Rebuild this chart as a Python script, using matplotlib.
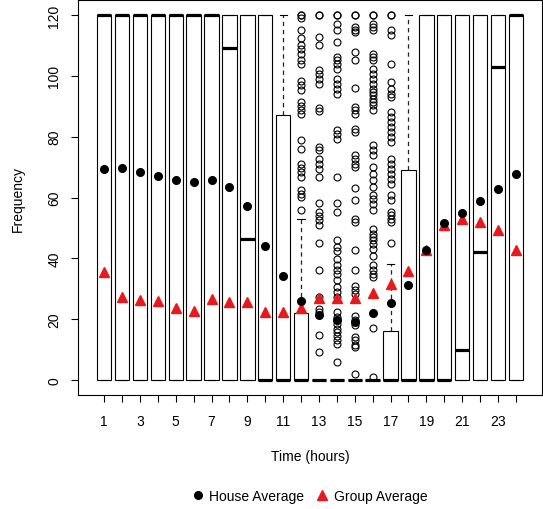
import matplotlib
matplotlib.use('Agg')
import matplotlib.pyplot as plt
from matplotlib.lines import Line2D

plt.rcParams['font.family'] = ['Liberation Sans', 'DejaVu Sans']

hours = list(range(1, 25))
q1 = [0] * 24
q3 = [120, 120, 120, 120, 120, 120, 120, 120, 120, 120,
      87, 22, 0, 0, 0, 0, 16, 69,
      120, 120, 120, 120, 120, 120]
medians = [120, 120, 120, 120, 120, 120, 120, 109, 46.5, 0,
           0, 0, 0, 0, 0, 0, 0, 0,
           0, 0, 10, 42, 103, 120]
whislo = [0] * 24
whishi = [120, 120, 120, 120, 120, 120, 120, 120, 120, 120,
          120, 53, 0, 0, 0, 0, 38, 120,
          120, 120, 120, 120, 120, 120]

fliers_12 = [120, 120, 119, 115, 112.3, 110.3, 108.8, 107.2, 105.3, 104, 98.3, 96.9,
             95.4, 91.5, 90, 88.7, 87.3, 78.8, 76, 71.1, 69.8, 68.4, 66.7, 62.4,
             61.2, 60.2, 56]
fliers_13 = [120, 120, 112.8, 110.2, 102, 100.7, 99.1, 97.4, 89.5, 88.5, 76.6, 75.5,
             72.7, 71.1, 69.5, 66.7, 58.2, 55.2, 53.8, 52.5, 50.9, 45, 36.3, 27.2,
             23.3, 22.2, 14.9, 9.1]
fliers_14 = [120, 120, 117.1, 115, 111.1, 106.2, 105.1, 104, 102.3, 99.1, 97.4, 95.8,
             94.1, 82.1, 81, 79.3, 66.7, 58.2, 55.2, 45.9, 43.7, 42.4, 39.8, 37.7,
             36.1, 34.7, 33, 30.6, 28.9, 27.3, 22.4, 20.7, 19.6, 18.5, 16.9, 15.8,
             14.4, 13, 11.9, 5.9]
fliers_15 = [120, 120, 116, 115.2, 114.4, 108, 105.1, 96, 89.7, 88.7, 87.5, 82.6,
             81.5, 73.9, 72.7, 71.1, 70, 63, 59.1, 53, 51.9, 42.8, 36.3, 31, 29.7,
             28.4, 21, 19.8, 18.2, 14, 13.2, 11.6, 10.7, 2]
fliers_16 = [120, 120, 117.1, 116, 115.2, 107.3, 106.2, 105.1, 102.3, 100.7, 99.1,
             97.4, 95.8, 94.7, 93.6, 92.5, 91.4, 90.3, 88.9, 77.1, 75.5, 73.9, 70,
             67.8, 65.6, 63.4, 60.7, 59.6, 58, 55.8, 49.7, 48.1, 47, 45.9, 44.8,
             43.2, 40.9, 37.7, 36.1, 34.7, 33.7, 17, 1]
fliers_17 = [120, 120, 115, 113.3, 104, 98, 95.8, 94.1, 93, 88.1, 86.5, 84.8, 83.2,
             81.5, 79.9, 78.2, 72.7, 71.1, 69.5, 67.8, 66.2, 64.5, 60.7, 59.1,
             55.2, 54.1, 53, 51.9, 45]
fliers = {12: fliers_12, 13: fliers_13, 14: fliers_14, 15: fliers_15,
          16: fliers_16, 17: fliers_17}

house_avg = [69.4, 69.6, 68.3, 67.2, 65.9, 65.1, 65.6, 63.3, 57.3, 44.0, 34.1, 25.9,
             21.4, 19.7, 19.0, 22.1, 25.2, 31.1, 42.8, 51.5, 54.9, 58.8, 62.7, 67.8]
group_avg = [35.6, 27.4, 26.4, 25.9, 23.8, 22.8, 26.6, 25.8, 25.8, 22.5, 22.3, 23.8,
             26.9, 27.0, 27.0, 28.5, 31.7, 35.7, 42.8, 50.8, 53.0, 51.9, 49.3, 42.7]

W, H = 543, 510
fig = plt.figure(figsize=(W / 100, H / 100), dpi=100)
left, right, top, bottom = 78, 542, 1.4, 395.6
ax = fig.add_axes([left / W, 1 - bottom / H, (right - left) / W, (bottom - top) / H])

stats = []
for i, h in enumerate(hours):
    stats.append(dict(med=medians[i], q1=q1[i], q3=q3[i], whislo=whislo[i],
                      whishi=whishi[i], fliers=fliers.get(h, [])))

ax.bxp(stats, positions=hours, widths=0.8, patch_artist=True, showfliers=True,
       boxprops=dict(facecolor='white', edgecolor='black', linewidth=0.8),
       medianprops=dict(color='black', linewidth=2.3, solid_capstyle='butt'),
       whiskerprops=dict(color='#222222', linewidth=0.9, linestyle=(0, (3.5, 3))),
       capprops=dict(color='black', linewidth=0.8),
       flierprops=dict(marker='o', markerfacecolor='none', markeredgecolor='black',
                       markersize=5, markeredgewidth=0.8, linestyle='none'))

ax.plot(hours, group_avg, linestyle='none', marker='^', color='#e8191c',
        markersize=6.5, zorder=5)
ax.plot(hours, house_avg, linestyle='none', marker='o', color='black',
        markersize=5.5, zorder=6)

ax.set_xlim(-0.46, 25.46)
ax.set_ylim(-4.8, 124.8)
ax.set_xticks(hours)
ax.set_xticklabels([str(h) if h % 2 == 1 else '' for h in hours], fontsize=10)
ax.set_yticks([0, 20, 40, 60, 80, 100, 120])
ax.set_yticklabels(['0', '20', '40', '60', '80', '100', '120'], fontsize=10,
                   rotation=90, va='center')
ax.tick_params(axis='x', direction='out', length=5, width=0.8, pad=9)
ax.tick_params(axis='y', direction='out', length=5, width=0.8, pad=7)
for s in ax.spines.values():
    s.set_linewidth(0.8)
    s.set_color('black')

fig.text(310 / W, 1 - 457 / H, 'Time (hours)', ha='center', va='center', fontsize=10)
fig.text(18 / W, 1 - 199 / H, 'Frequency', ha='center', va='center', fontsize=10,
         rotation=90)

handles = [Line2D([], [], linestyle='none', marker='o', color='black', markersize=5.5),
           Line2D([], [], linestyle='none', marker='^', color='#e8191c', markersize=6.5)]
fig.legend(handles, ['House Average', 'Group Average'], loc='center',
           bbox_to_anchor=(310 / W, 1 - 497 / H), ncol=2, frameon=False,
           fontsize=10, handlelength=0.8, handletextpad=0.4, columnspacing=0.9)

fig.savefig('out.png', dpi=100)
